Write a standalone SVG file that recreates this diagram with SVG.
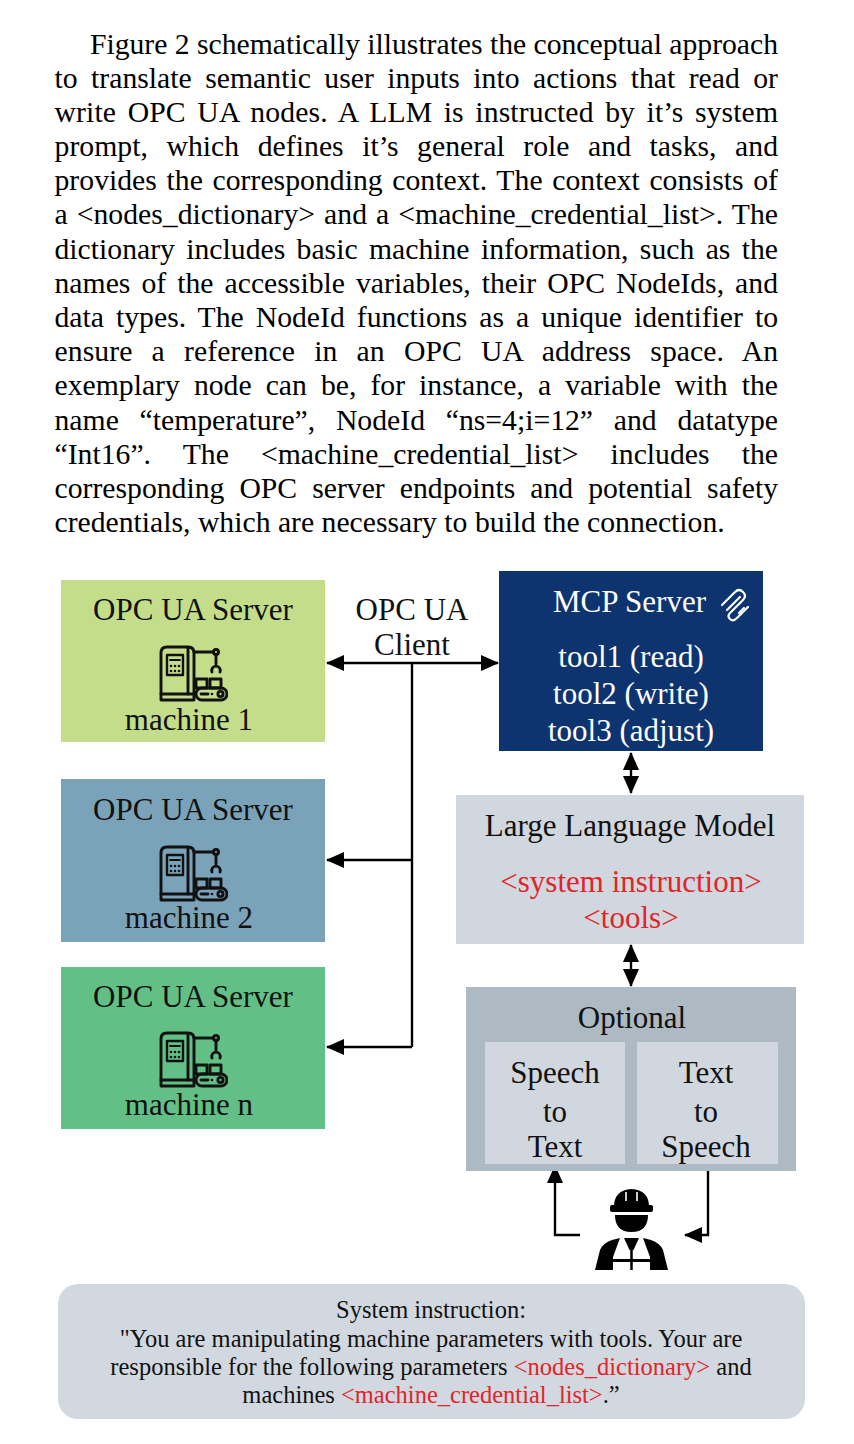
<svg xmlns="http://www.w3.org/2000/svg" width="854" height="1444" viewBox="0 0 854 1444">
<defs>
<style>
.para{font-family:"Liberation Serif","Times New Roman",serif;font-size:29.7px;fill:#000;}
.lbl{font-family:"Liberation Serif","Times New Roman",serif;font-size:31px;fill:#111;text-anchor:middle;}
.wt{fill:#fff;}
.red{fill:#e3232a;}
.conn{fill:none;stroke:#000;stroke-width:2.4;}
.sys{font-family:"Liberation Serif","Times New Roman",serif;font-size:24.5px;fill:#111;text-anchor:middle;}
.ic{fill:none;stroke:#111;stroke-width:2.9;stroke-linejoin:round;stroke-linecap:round;}
</style>
<marker id="ah" markerUnits="userSpaceOnUse" viewBox="0 0 18 16" markerWidth="18" markerHeight="16" refX="17" refY="8" orient="auto-start-reverse">
<path d="M0,0 L18,8 L0,16 Z" fill="#000"/>
</marker>
<symbol id="machine" viewBox="0 0 70 58">
<g class="ic">
<path d="M3,56 V9 Q3,3 9,3 H30 Q36,3 36,9 V56 Z"/>
<path d="M3,50 H36"/>
<path d="M30,4 V50"/>
<rect x="9" y="11" width="16" height="20" stroke-width="2.4"/>
<path d="M12,16 H22" stroke-width="1.8"/>
<path d="M36,8 H55.5"/>
<circle cx="58" cy="8" r="2.5"/>
<path d="M58,10.5 V20"/>
<path d="M54,28 A4.3,4.3 0 1,1 62,28"/>
<rect x="38" y="35" width="11" height="9"/>
<rect x="52" y="35" width="11" height="9"/>
<rect x="38" y="44" width="31" height="12" rx="6"/>
<path d="M43,50 H50"/>
<circle cx="62.5" cy="50" r="2.6"/>
</g>
<g fill="#111">
<circle cx="13" cy="22" r="1.3"/><circle cx="17" cy="22" r="1.3"/><circle cx="21" cy="22" r="1.3"/>
<circle cx="13" cy="27" r="1.3"/><circle cx="17" cy="27" r="1.3"/><circle cx="21" cy="27" r="1.3"/>
<circle cx="54" cy="50" r="1.3"/>
</g>
</symbol>
</defs>
<rect width="854" height="1444" fill="#fff"/>

<g id="paragraph" class="para">
<text x="90" y="53.5" textLength="688" lengthAdjust="spacing">Figure 2 schematically illustrates the conceptual approach</text>
<text x="54.5" y="87.7" textLength="723.5" lengthAdjust="spacing" word-spacing="6">to translate semantic user inputs into actions that read or</text>
<text x="54.5" y="121.9" textLength="723.5" lengthAdjust="spacing" word-spacing="4">write OPC UA nodes. A LLM is instructed by it’s system</text>
<text x="54.5" y="156.0" textLength="723.5" lengthAdjust="spacing" word-spacing="11">prompt, which defines it’s general role and tasks, and</text>
<text x="54.5" y="190.2" textLength="723.5" lengthAdjust="spacing" word-spacing="2.2">provides the corresponding context. The context consists of</text>
<text x="54.5" y="224.4" textLength="723.5" lengthAdjust="spacing" word-spacing="1.6">a &lt;nodes_dictionary&gt; and a &lt;machine_credential_list&gt;. The</text>
<text x="54.5" y="258.6" textLength="723.5" lengthAdjust="spacing" word-spacing="3.9">dictionary includes basic machine information, such as the</text>
<text x="54.5" y="292.8" textLength="723.5" lengthAdjust="spacing" word-spacing="3.6">names of the accessible variables, their OPC NodeIds, and</text>
<text x="54.5" y="326.9" textLength="723.5" lengthAdjust="spacing" word-spacing="4.5">data types. The NodeId functions as a unique identifier to</text>
<text x="54.5" y="361.1" textLength="723.5" lengthAdjust="spacing" word-spacing="11.7">ensure a reference in an OPC UA address space. An</text>
<text x="54.5" y="395.3" textLength="723.5" lengthAdjust="spacing" word-spacing="6.6">exemplary node can be, for instance, a variable with the</text>
<text x="54.5" y="429.5" textLength="723.5" lengthAdjust="spacing" word-spacing="13.3">name “temperature”, NodeId “ns=4;i=12” and datatype</text>
<text x="54.5" y="463.7" textLength="723.5" lengthAdjust="spacing" word-spacing="24.7">“Int16”. The &lt;machine_credential_list&gt; includes the</text>
<text x="54.5" y="497.8" textLength="723.5" lengthAdjust="spacing" word-spacing="7.6">corresponding OPC server endpoints and potential safety</text>
<text x="54.5" y="532">credentials, which are necessary to build the connection.</text>
</g>

<g id="connectors">
<path class="conn" d="M327,663 H498" marker-start="url(#ah)" marker-end="url(#ah)"/>
<path class="conn" d="M412,663 V1047"/>
<path class="conn" d="M412,860 H327" marker-end="url(#ah)"/>
<path class="conn" d="M412,1047 H327" marker-end="url(#ah)"/>
<path class="conn" d="M631,753 V793" marker-start="url(#ah)" marker-end="url(#ah)"/>
<path class="conn" d="M631,945 V986" marker-start="url(#ah)" marker-end="url(#ah)"/>
<path class="conn" d="M580,1235 H555 V1166" marker-end="url(#ah)"/>
<path class="conn" d="M708,1165 V1235 H685" marker-end="url(#ah)"/>
</g>

<g id="client-label">
<text class="lbl" x="412" y="620">OPC UA</text>
<text class="lbl" x="412" y="655">Client</text>
</g>

<g id="server1">
<rect x="61" y="580" width="264" height="162" fill="#c4dd8b"/>
<text class="lbl" x="193" y="620">OPC UA Server</text>
<use href="#machine" x="158" y="644" width="70" height="58"/>
<text class="lbl" x="189" y="730">machine 1</text>
</g>

<g id="server2">
<rect x="61" y="779" width="264" height="163" fill="#7aa3ba"/>
<text class="lbl" x="193" y="820">OPC UA Server</text>
<use href="#machine" x="158" y="844" width="70" height="58"/>
<text class="lbl" x="189" y="928">machine 2</text>
</g>

<g id="servern">
<rect x="61" y="967" width="264" height="162" fill="#62c086"/>
<text class="lbl" x="193" y="1007">OPC UA Server</text>
<use href="#machine" x="158" y="1030" width="70" height="58"/>
<text class="lbl" x="189" y="1115">machine n</text>
</g>

<g id="mcp-server">
<rect x="499" y="571" width="264" height="180" fill="#0e3470"/>
<text class="lbl wt" x="553" y="612" style="text-anchor:start">MCP Server</text>
<g fill="none" stroke="#fff" stroke-width="2.2" stroke-linecap="round" stroke-linejoin="round">
<path d="M722,605 L735,592 Q739,588 743,592 Q747,596 743,600 L730,613 Q727,616 730,619 Q733,622 737,618 L748,607"/>
<path d="M727,610 L740,597"/>
<path d="M739,613 L744,608"/>
</g>
<text class="lbl wt" x="631" y="667">tool1 (read)</text>
<text class="lbl wt" x="631" y="704">tool2 (write)</text>
<text class="lbl wt" x="631" y="741">tool3 (adjust)</text>
</g>

<g id="llm">
<rect x="456" y="795" width="348" height="149" fill="#d1d7de"/>
<text class="lbl" x="630" y="836">Large Language Model</text>
<text class="lbl red" x="631" y="892">&lt;system instruction&gt;</text>
<text class="lbl red" x="631" y="928">&lt;tools&gt;</text>
</g>

<g id="optional">
<rect x="466" y="987" width="330" height="184" fill="#adbac3"/>
<text class="lbl" x="632" y="1028">Optional</text>
<g id="speech-to-text">
<rect x="485" y="1042" width="140" height="122" fill="#d1d7de"/>
<text class="lbl" x="555" y="1083">Speech</text>
<text class="lbl" x="555" y="1122">to</text>
<text class="lbl" x="555" y="1157">Text</text>
</g>
<g id="text-to-speech">
<rect x="637" y="1042" width="141" height="122" fill="#d1d7de"/>
<text class="lbl" x="706" y="1083">Text</text>
<text class="lbl" x="706" y="1122">to</text>
<text class="lbl" x="706" y="1157">Speech</text>
</g>
</g>

<g id="worker" fill="#000">
<path d="M614,1207 Q614,1190 631.5,1189 Q649,1190 649,1207 Z"/>
<rect x="610" y="1205" width="43" height="7" rx="2"/>
<path d="M626,1192 V1201 M637,1192 V1201" stroke="#fff" stroke-width="1.6"/>
<path d="M615,1215 H648 Q648,1232 631.5,1232 Q615,1232 615,1215 Z"/>
<path d="M595,1270 L600,1250 Q603,1243 612,1240 L620,1238 L613,1257 L613,1270 Z"/>
<path d="M668,1270 L663,1250 Q660,1243 651,1240 L643,1238 L650,1257 L650,1270 Z"/>
<path d="M624,1238 H639 L633.5,1250 H629.5 Z"/>
<path d="M631.5,1249 V1270" stroke="#000" stroke-width="2.5"/>
<rect x="611" y="1259" width="41" height="3"/>
</g>

<g id="system-instruction">
<rect x="58" y="1284" width="747" height="135" rx="20" fill="#d2d8df"/>
<text class="sys" x="431" y="1318">System instruction:</text>
<text class="sys" x="431" y="1347">"You are manipulating machine parameters with tools. Your are</text>
<text class="sys" x="431" y="1375">responsible for the following parameters <tspan class="red">&lt;nodes_dictionary&gt;</tspan> and</text>
<text class="sys" x="431" y="1403">machines <tspan class="red">&lt;machine_credential_list&gt;</tspan>.”</text>
</g>
</svg>
